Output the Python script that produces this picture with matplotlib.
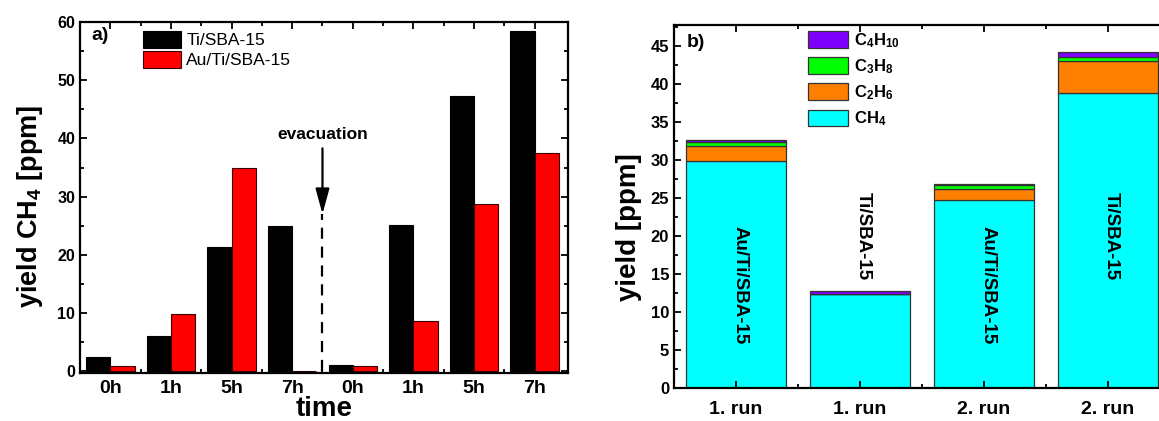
import numpy as np
import matplotlib
matplotlib.use('Agg')
import matplotlib.pyplot as plt
from matplotlib.ticker import MultipleLocator, FixedLocator

plt.rcParams['font.family'] = ['Liberation Sans', 'DejaVu Sans']
plt.rcParams['mathtext.fontset'] = 'custom'
plt.rcParams['mathtext.rm'] = 'Liberation Sans'
plt.rcParams['mathtext.bf'] = 'Liberation Sans:bold'
plt.rcParams['mathtext.it'] = 'Liberation Sans:italic'

# panel a) CH4 yield over time, before and after evacuation
times = ['0h', '1h', '5h', '7h', '0h', '1h', '5h', '7h']
ti_sba = [2.4, 6.1, 21.3, 25.0, 1.1, 25.2, 47.3, 58.5]
au_ti_sba = [0.9, 9.9, 34.9, 0.0, 0.9, 8.6, 28.8, 37.5]

# panel b) hydrocarbon yields per run
runs = ['1. run', '1. run', '2. run', '2. run']
catalysts = ['Au/Ti/SBA-15', 'Ti/SBA-15', 'Au/Ti/SBA-15', 'Ti/SBA-15']
ch4 = [29.8, 12.3, 24.7, 38.7]
c2h6 = [2.0, 0.0, 1.4, 4.3]
c3h8 = [0.5, 0.0, 0.6, 0.5]
c4h10 = [0.3, 0.4, 0.1, 0.6]

W, H = 1159, 421
fig = plt.figure(figsize=(W / 100, H / 100), dpi=100)

def style_axes(ax):
    for s in ax.spines.values():
        s.set_linewidth(1.6)
    ax.tick_params(which='both', direction='in', top=True, right=True, width=1.3)
    ax.tick_params(which='major', length=5)
    ax.tick_params(which='minor', length=3)

# ---------------- a) ----------------
ax1 = fig.add_axes([80 / W, 1 - 373 / H, 488 / W, 351 / H])
x = np.arange(len(times))
bw = 0.4
ax1.bar(x - bw / 2, ti_sba, bw, color='black', edgecolor='black', lw=0.8, label='Ti/SBA-15')
ax1.bar(x + bw / 2, au_ti_sba, bw, color='#ff0000', edgecolor='#3a0000', lw=0.8, label='Au/Ti/SBA-15')
ax1.set_xlim(-0.5, 7.55)
ax1.set_ylim(-0.3, 60)
ax1.set_axisbelow(True)
style_axes(ax1)
ax1.set_xticks(x)
ax1.set_xticklabels(times, fontsize=14, fontweight='bold')
ax1.xaxis.set_minor_locator(FixedLocator(np.arange(0.5, 7, 1)))
ax1.yaxis.set_major_locator(MultipleLocator(10))
ax1.yaxis.set_minor_locator(MultipleLocator(5))
for lab in ax1.get_yticklabels():
    lab.set_fontsize(11.5)
    lab.set_fontweight('bold')
ax1.tick_params(axis='x', which='major', pad=5)
ax1.set_ylabel(r'yield CH$_\mathbf{4}$ [ppm]', fontsize=19.5, fontweight='bold')
ax1.yaxis.set_label_coords(-0.072, 0.476)
ax1.set_xlabel('time', fontsize=20, fontweight='bold', labelpad=-1)

# evacuation marker
ax1.plot([3.5, 3.5], [0, 27], ls=(0, (5, 3.5)), color='black', lw=1.6)
ax1.annotate('', xy=(3.5, 27), xytext=(3.5, 38.3),
             arrowprops=dict(arrowstyle='-|>,head_length=1.1,head_width=0.3',
                             color='black', lw=1.6, mutation_scale=14, shrinkA=0, shrinkB=0))
ax1.text(3.5, 40.6, 'evacuation', ha='center', va='center', fontsize=12.5, fontweight='bold')
ax1.text(0.024, 0.985, 'a)', transform=ax1.transAxes, ha='left', va='top',
         fontsize=14, fontweight='bold')
ax1.legend(loc='upper left', bbox_to_anchor=(143 / W, 1 - 31 / H),
           bbox_transform=fig.transFigure, frameon=False, borderpad=0, borderaxespad=0,
           handlelength=2.2, handleheight=1.15, handletextpad=0.3, labelspacing=0.12,
           prop=dict(size=12.5))

# ---------------- b) ----------------
ax2 = fig.add_axes([674 / W, 1 - 388 / H, 496 / W, 363 / H])
xr = np.arange(len(runs))
bw2 = 0.8
ec = '#333333'
b_ch4 = ax2.bar(xr, ch4, bw2, color='#00ffff', edgecolor=ec, lw=0.9, label=r'$\mathbf{CH_4}$')
bottom = np.array(ch4)
b_c2 = ax2.bar(xr, c2h6, bw2, bottom=bottom, color='#ff8000', edgecolor=ec, lw=0.9,
               label=r'$\mathbf{C_2H_6}$')
bottom = bottom + np.array(c2h6)
b_c3 = ax2.bar(xr, c3h8, bw2, bottom=bottom, color='#00ff00', edgecolor=ec, lw=0.9,
               label=r'$\mathbf{C_3H_8}$')
bottom = bottom + np.array(c3h8)
b_c4 = ax2.bar(xr, c4h10, bw2, bottom=bottom, color='#8000ff', edgecolor=ec, lw=0.9,
               label=r'$\mathbf{C_4H_{10}}$')
ax2.set_xlim(-0.5, 3.5)
ax2.set_ylim(0, 47.7)
style_axes(ax2)
ax2.set_xticks(xr)
ax2.set_xticklabels(runs, fontsize=14, fontweight='bold')
ax2.xaxis.set_minor_locator(FixedLocator([0.5, 1.5, 2.5]))
ax2.yaxis.set_major_locator(MultipleLocator(5))
ax2.yaxis.set_minor_locator(MultipleLocator(2.5))
for lab in ax2.get_yticklabels():
    lab.set_fontsize(12)
    lab.set_fontweight('bold')
ax2.tick_params(axis='x', which='major', pad=9)
ax2.set_ylabel('yield [ppm]', fontsize=20, fontweight='bold')
ax2.yaxis.set_label_coords(-0.065, 0.444)

for xi, name, yy in zip(xr, catalysts, [13.5, 20.0, 13.5, 20.0]):
    ax2.text(xi + 0.03, yy, name, rotation=270, ha='center', va='center',
             fontsize=13.5, fontweight='bold')
ax2.text(0.026, 0.975, 'b)', transform=ax2.transAxes, ha='left', va='top',
         fontsize=14, fontweight='bold')
ax2.legend(handles=[b_c4, b_c3, b_c2, b_ch4], loc='upper left',
           bbox_to_anchor=(808 / W, 1 - 31 / H), bbox_transform=fig.transFigure,
           frameon=False, borderpad=0, borderaxespad=0,
           handlelength=2.4, handleheight=1.15, handletextpad=0.35, labelspacing=0.45,
           prop=dict(size=12))

fig.savefig('out.png', dpi=100)
